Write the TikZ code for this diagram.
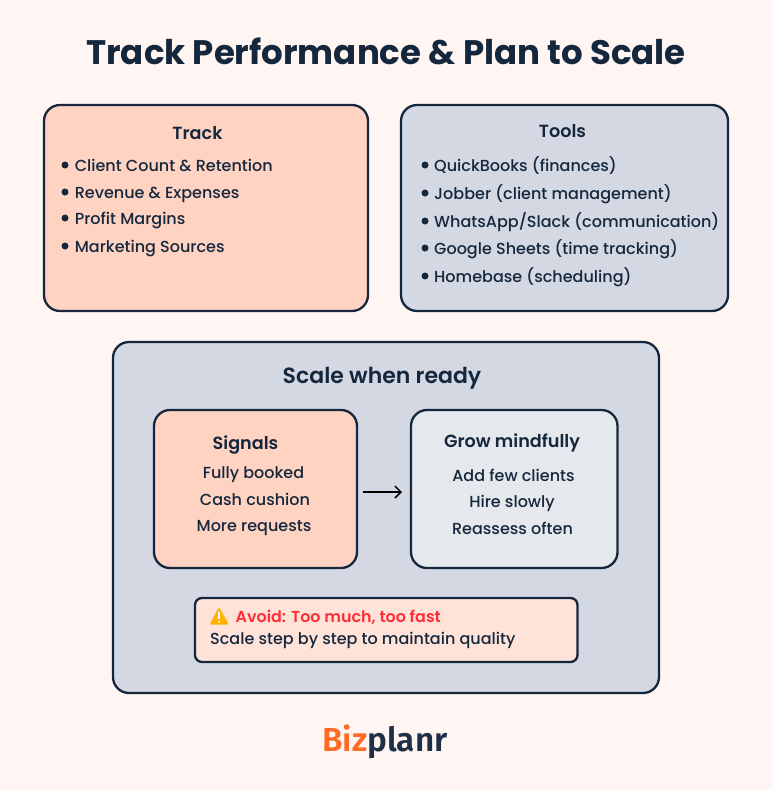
\documentclass[tikz,border=0pt]{standalone}
\usepackage{fontspec}
\usetikzlibrary{arrows.meta}
\setmainfont{Poppins Medium}[BoldFont={Poppins SemiBold}]
\newfontfamily\titlefont{Poppins}[BoldFont={Poppins Bold}]
\newfontfamily\logofont{Fira Sans}[BoldFont={Fira Sans SemiBold}]
\definecolor{ink}{HTML}{15273C}
\definecolor{pagebg}{HTML}{FFF6F3}
\definecolor{peach}{HTML}{FFD3C2}
\definecolor{slate}{HTML}{D3D8E2}
\definecolor{pale}{HTML}{E5E8ED}
\definecolor{blush}{HTML}{FFE3D8}
\definecolor{alert}{HTML}{FF2D37}
\definecolor{amber}{HTML}{FFB300}
\definecolor{brand}{HTML}{FF6B24}
\definecolor{brandink}{HTML}{1F2F46}
\tikzset{
  x=1pt,y=-1pt,
  card/.style={draw=ink,line width=2.3pt,rounded corners=#1,inner sep=0pt,outer sep=0pt},
  card/.default=16pt,
  txt/.style={text=ink,font=\fontsize{16}{18}\selectfont,inner sep=0pt,anchor=base west},
  ctxt/.style={txt,anchor=base},
  head/.style={text=ink,font=\bfseries\fontsize{17.6}{20}\selectfont,inner sep=0pt,anchor=base},
  dot/.style={circle,fill=ink,minimum size=7pt,inner sep=0pt},
}
\newcommand{\boxat}[6]{\node[card=#6,fill=#5,minimum width=#3pt,minimum height=#4pt,anchor=north west] (#1) at #2 {};}
\begin{document}
\begin{tikzpicture}
\useasboundingbox[fill=pagebg] (0,0) rectangle (772,790);
\node[inner sep=0pt,anchor=base,text=ink,font=\titlefont\bfseries\fontsize{34}{40}\selectfont] (title) at (386,64) {Track Performance \& Plan to Scale};
% top cards
\boxat{track}{(44,105)}{324}{206}{peach}{16pt}
\boxat{tools}{(401,105)}{327}{206}{slate}{16pt}
\node[head] (trackh) at (197.5,139) {Track};
\node[head] (toolsh) at (562.5,137) {Tools};
\foreach \n/\y/\t in {a/171/{Client Count \& Retention},b/198/{Revenue \& Expenses},c/224/{Profit Margins},d/252/{Marketing Sources}}{
  \node[dot] (d\n) at (65,\y-6) {};
  \node[txt] (t\n) at (74.6,\y) {\t};
}
\foreach \n/\y/\t in {e/171/{QuickBooks (finances)},f/199/{Jobber (client management)},g/227/{WhatsApp/Slack (communication)},h/254/{Google Sheets (time tracking)},i/282/{Homebase (scheduling)}}{
  \node[dot] (d\n) at (425,\y-6) {};
  \node[txt] (t\n) at (434,\y) {\t};
}
% scale panel
\boxat{scale}{(113,342)}{546}{351}{slate}{16pt}
\node[inner sep=0pt,anchor=base,text=ink,font=\bfseries\fontsize{22}{26}\selectfont] (scaleh) at (382,383) {Scale when ready};
\boxat{signals}{(154,410)}{203}{158}{peach}{16pt}
\boxat{grow}{(411,410)}{206.5}{158}{pale}{16pt}
\node[head] (sigh) at (245.5,449) {Signals};
\node[ctxt] (s1) at (253.5,478) {Fully booked};
\node[ctxt] (s2) at (255,505) {Cash cushion};
\node[ctxt] (s3) at (254,531) {More requests};
\node[head] (growh) at (512,447) {Grow mindfully};
\node[ctxt] (g1) at (513.5,481) {Add few clients};
\node[ctxt] (g2) at (512,507) {Hire slowly};
\node[ctxt] (g3) at (512.5,534) {Reassess often};
\draw[black,line width=1.5pt,-{Straight Barb[length=6pt,width=12pt]}] ([xshift=6pt,yshift=-3pt]signals.east) -- ([xshift=-9pt,yshift=-3pt]grow.west);
% avoid box
\boxat{avoid}{(195,598)}{382.5}{64}{blush}{7pt}
\fill[amber,rounded corners=1.5pt] (219,607) -- (229,624.5) -- (209.5,624.5) -- cycle;
\fill[white] (218.2,612) rectangle (220,619);
\fill[white] (219.1,621.5) circle (1.1);
\node[txt,text=alert,font=\bfseries\fontsize{15.9}{18}\selectfont] (avh) at (235.5,622) {Avoid: Too much, too fast};
\node[txt] (avt) at (210,644) {Scale step by step to maintain quality};
% logo
\node[inner sep=0pt,anchor=base,font=\logofont\bfseries\fontsize{33.3}{38}\selectfont] (logo) at (385,751) {\textcolor{brand}{Biz}\textcolor{brandink}{planr}};
\end{tikzpicture}
\end{document}
